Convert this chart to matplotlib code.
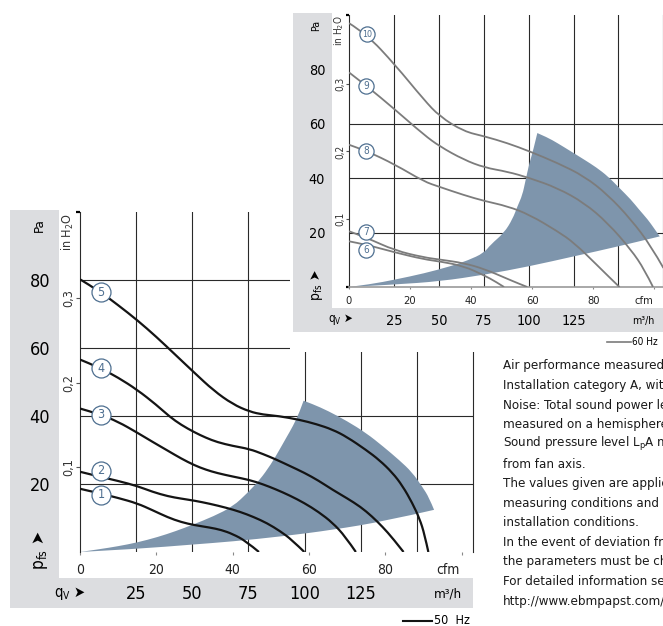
import matplotlib
matplotlib.use("Agg")
import matplotlib.pyplot as plt
from matplotlib.patches import Rectangle, PathPatch
from matplotlib.lines import Line2D
from matplotlib.path import Path

plt.rcParams['font.family'] = ['DejaVu Sans']
plt.rcParams['font.stretch'] = 'condensed'

# 50 Hz curves (cfm, Pa)
c1_cfm = [0, 5, 10, 15, 19, 23, 26.5, 30, 34, 37, 40, 43.5, 46.9]
c1_pa = [18.6, 17.3, 15.9, 14.3, 12.3, 10.2, 8.8, 7.9, 7.2, 6.5, 5.3, 3.2, 0]
c2_cfm = [0, 5, 10, 15, 19, 23, 26.5, 30, 34, 38.4, 42, 45.5, 49, 52.5, 55.5, 58.8]
c2_pa = [23.6, 22.2, 20.9, 19.4, 17.7, 16.4, 15.7, 15.1, 14.2, 13, 11.8, 10.3, 8.5, 6.1,
         3.6, 0]
c3_cfm = [0, 5, 10, 15, 19, 23, 26.5, 30, 33, 36, 40, 44.4, 48, 51.4,
          55, 58.8, 62.5, 66.2, 69.5, 72.3]
c3_pa = [42.2, 40.6, 38.3, 35.1, 32.4, 29.8, 27.5, 25.5, 24.2, 23.2, 22.2, 21.2, 19.9,
         18.4, 16.6, 14.4, 11.8, 8.6, 4.6, 0]
c4_cfm = [0, 5, 10, 15, 20, 23.5, 26.5, 30, 33, 36, 40, 44.4, 48, 51.4, 55,
          58.8, 62.5, 66.2, 70, 73.5, 76.5, 79.3, 82, 84.8]
c4_pa = [56.6, 54.3, 51.3, 47.7, 43.3, 39.8, 37.4, 35.2, 33.6, 32.3, 31.2, 30.3, 28.8,
         27.2, 25.3, 23.3, 21, 18.3, 15.8, 13.3, 10.5, 7.4, 4, 0]
c5_cfm = [0, 5, 10, 15, 20, 25, 30, 35, 40, 44.4, 48, 52, 57.5, 62, 66.2, 70,
          75, 78.5, 81.9, 84.5, 87.1, 89, 90.3, 91.3]
c5_pa = [80.2, 76.8, 72.6, 68.2, 63.3, 58, 52.7, 47.5, 43.5, 41.3, 40.4, 40, 38.9,
         37.6, 36, 33.8, 30, 27, 23.3, 19.5, 14.4, 9.8, 5.2, 0]

# 60 Hz curves, small chart (cfm, Pa)
c6_cfm = [0, 5.6, 15.1, 24.5, 29.7, 37.6, 44.4, 48, 50.8]
c6_pa = [16.8, 15.6, 12.7, 10.2, 9.4, 7.7, 4.2, 2, 0]
c7_cfm = [0, 5.6, 15.1, 24.5, 29.7, 37.6, 44.4, 51.9, 55.5, 58.4]
c7_pa = [20.5, 18.2, 13.4, 10.9, 10.1, 8.8, 6.6, 3, 1.3, 0]
c8_cfm = [0, 5.6, 15.1, 24.5, 29.7, 37.6, 44.4, 51.9, 59.1, 68.3, 73.8, 81.5, 85, 88.6]
c8_pa = [52.3, 50.1, 45, 38.8, 36.8, 33.8, 31.6, 29.7, 26.6, 20.5, 16.2, 7.8, 3.9, 0]
c9_cfm = [0, 5.6, 15.1, 24.5, 29.7, 37.6, 44.4, 51.9, 59.1, 68.3, 77.1, 84.8, 92.4,
          96.8, 99.6]
c9_pa = [78.9, 74.1, 65.2, 56, 51.7, 46.8, 43.9, 42.4, 40.1, 36.4, 30.9, 23.5, 13.7,
         6.4, 0]
c10_cfm = [0, 5.7, 15.1, 24.5, 29.7, 37.6, 44.4, 51.9, 59.1, 68.3, 77.1, 84.8, 92.4,
           99, 103]
c10_pa = [97, 93, 81.7, 68.9, 62.7, 57.2, 55.4, 52.9, 49.9, 45.6, 40.7, 33.9, 24.8,
          15, 7]

# operating range (shaded): lower edge, outer arc, left edge
fan50_low_cfm = [0, 14.9, 29.6, 40, 53, 66.2, 80, 92.8]
fan50_low_pa = [0, 0.9, 2.2, 3.1, 4.6, 6.5, 9.1, 12.4]
fan50_arc_cfm = [92.8, 91.5, 89.7, 87, 83.7, 79.5, 75, 70, 65, 61, 58.6]
fan50_arc_pa = [12.4, 16, 19.2, 23.5, 27, 31, 35, 38.5, 41.5, 43.5, 44.5]
fan50_left_cfm = [58.6, 57.5, 55.8, 54, 52.3, 50, 47.1, 44, 40.1, 35, 29.5, 25, 20.4,
                  15, 10, 5, 0]
fan50_left_pa = [44.5, 41, 37, 33.5, 30.1, 25.7, 21.2, 17.5, 13.4, 10.5, 8, 6.1, 4.4,
                 2.8, 1.7, 0.8, 0]
fan60_low_cfm = [0, 15.1, 29.9, 44.4, 59.1, 73.8, 88.6, 101.8]
fan60_low_pa = [0, 0.9, 2.1, 4.5, 7.6, 11.3, 15, 18.6]
fan60_arc_cfm = [101.8, 100, 97.9, 95, 92.4, 88.5, 84.8, 81, 77.1, 72.5, 68.3, 65, 61.7]
fan60_arc_pa = [18.6, 21.5, 24.8, 28.5, 32.1, 36.5, 40.7, 44, 46.8, 50, 52.9, 55, 56.6]
fan60_left_cfm = [61.7, 60.3, 59.1, 57.8, 56.8, 55.2, 53.6, 50.8, 46.4, 44.2, 39, 33.2,
                  24.6, 15, 7, 0]
fan60_left_pa = [56.6, 50, 45.6, 39, 33.8, 29.7, 25, 19.9, 15.6, 12.5, 9.8, 7.6, 5.0,
                 2.7, 1.0, 0]

curves50 = [(1, c1_cfm, c1_pa), (2, c2_cfm, c2_pa), (3, c3_cfm, c3_pa),
            (4, c4_cfm, c4_pa), (5, c5_cfm, c5_pa)]
curves60 = [(6, c6_cfm, c6_pa), (7, c7_cfm, c7_pa), (8, c8_cfm, c8_pa),
            (9, c9_cfm, c9_pa), (10, c10_cfm, c10_pa)]
fan50 = [(fan50_low_cfm, fan50_low_pa), (fan50_arc_cfm, fan50_arc_pa),
         (fan50_left_cfm, fan50_left_pa)]
fan60 = [(fan60_low_cfm, fan60_low_pa), (fan60_arc_cfm, fan60_arc_pa),
         (fan60_left_cfm, fan60_left_pa)]
tags50 = {1: (5.5, 16.8), 2: (5.5, 23.9), 3: (5.5, 40.4), 4: (5.5, 54), 5: (5.5, 76.4)}
tags60 = {6: (5.6, 13.6), 7: (5.6, 20.2), 8: (5.6, 50), 9: (5.6, 73.9), 10: (5.8, 93)}

pa_ticks = [20, 40, 60, 80]
inh2o_ticks = [0.1, 0.2, 0.3]
inh2o_labels = ['0,1', '0,2', '0,3']
cfm_ticks = [0, 20, 40, 60, 80, 100]
cfm_labels = ['0', '20', '40', '60', '80', '']
m3h_ticks = [25, 50, 75, 100, 125]
m3h_grid = [25, 50, 75, 100, 125, 150]
m3h_max = 175

notes = ["Air performance measured ac",
         "Installation category A, withou",
         "Noise: Total sound power leve",
         "measured on a hemisphere w",
         "Sound pressure level L$_\\mathregular{p}$A me",
         "from fan axis.",
         "The values given are applicab",
         "measuring conditions and ma",
         "installation conditions.",
         "In the event of deviation from",
         "the parameters must be chec",
         "For detailed information see",
         "http://www.ebmpapst.com/ge"]

M3H_PER_CFM = 1.699
PA_PER_INH2O = 249.09
W, H = 663, 626
GRAY = '#dcdde0'
FILL = '#7e95ac'
BLUE = '#4e6f90'
GRID = '#2a2a2a'

fig = plt.figure(figsize=(W / 100, H / 100), dpi=100)


def fx(x):
    return x / W


def fy(y):
    return 1 - y / H


def pt(px):
    return px * 72 / 100


def box(x0, y0, x1, y1, color, z):
    fig.add_artist(Rectangle((fx(x0), fy(y1)), (x1 - x0) / W, (y1 - y0) / H,
                             transform=fig.transFigure, facecolor=color,
                             edgecolor='none', zorder=z))


def ftext(x, y, s, z, **kw):
    fig.text(fx(x), fy(y), s, zorder=z, **kw)


def smooth(xs, ys, start=True):
    # quadratic bezier pieces through the midpoints of the read points
    pts = list(zip(xs, ys))
    verts, codes = [], []
    if start:
        verts.append(pts[0])
        codes.append(Path.MOVETO)
    if len(pts) == 2:
        verts.append(pts[1])
        codes.append(Path.LINETO)
        return verts, codes
    for i in range(1, len(pts) - 1):
        if i < len(pts) - 2:
            end = ((pts[i][0] + pts[i + 1][0]) / 2, (pts[i][1] + pts[i + 1][1]) / 2)
        else:
            end = pts[i + 1]
        verts += [pts[i], end]
        codes += [Path.CURVE3, Path.CURVE3]
    return verts, codes


def draw_panel(left, bottom, s, curves, tags, fan, lcolor, lw, hgrid, hz, z,
               base_line):
    top = bottom - 340 * s
    right = left + 393 * s
    box(left - 70 * s, top - 2 * s, right, bottom + 56 * s, GRAY, z)
    box(left - 21 * s, top - 2 * s, right, bottom + 26 * s, 'white', z + 0.1)

    ax = fig.add_axes([fx(left), fy(bottom), (right - left) / W, (bottom - top) / H],
                      zorder=z + 0.2)
    ax.set_facecolor('none')
    ax.set_xlim(0, m3h_max / M3H_PER_CFM)
    ax.set_ylim(0, 100)
    for side in ['top', 'bottom']:
        ax.spines[side].set_visible(False)
    for side in ['left', 'right']:
        ax.spines[side].set_linewidth(0.8)
        ax.spines[side].set_color(GRID)
    if base_line:
        ax.spines['bottom'].set_visible(True)
        ax.spines['bottom'].set_color('#9a9a9a')
        ax.spines['bottom'].set_linewidth(1.2)

    for p in hgrid:
        ax.axhline(p, color=GRID, lw=0.8, zorder=1)
    for m in m3h_grid:
        ax.axvline(m / M3H_PER_CFM, color=GRID, lw=0.8, zorder=1)

    verts, codes = [], []
    for k, (xs, ys) in enumerate(fan):
        v, c = smooth(xs, ys, start=(k == 0))
        verts += v
        codes += c
    verts.append(verts[0])
    codes.append(Path.CLOSEPOLY)
    ax.add_patch(PathPatch(Path(verts, codes), facecolor=FILL, lw=0, zorder=2))

    for n, xs, ys in curves:
        v, c = smooth(xs, ys)
        ax.add_patch(PathPatch(Path(v, c), facecolor='none', edgecolor=lcolor, lw=lw,
                               zorder=3, capstyle='butt'))
    for n, (tx, ty) in tags.items():
        ax.scatter([tx], [ty], s=187 * s * s, facecolor='white', edgecolor=BLUE,
                   linewidth=0.9, zorder=4)
        ax.text(tx, ty, str(n), ha='center', va='center', color=BLUE,
                size=(9 if n < 10 else 8) * s, zorder=5)

    # Pa axis
    ax.set_yticks(pa_ticks)
    ax.set_yticklabels([str(v) for v in pa_ticks])
    ax.tick_params(axis='y', length=0, pad=pt(40 * s), labelsize=13 * s)
    plt.setp(ax.get_yticklabels(), ha='center')
    ax.set_yticks([0, 100] if base_line else [100], minor=True)
    ax.tick_params(axis='y', which='minor', length=pt(4 * s), width=1.6,
                   color='black')

    # in H2O axis
    sec = ax.secondary_yaxis('left', functions=(lambda p: p / PA_PER_INH2O,
                                                lambda i: i * PA_PER_INH2O))
    sec.set_yticks(inh2o_ticks)
    sec.set_yticklabels(inh2o_labels)
    sec.spines['left'].set_visible(False)
    sec.tick_params(length=pt(4 * s), width=0.8, color='#555555', pad=pt(7 * s),
                    labelsize=9 * s, labelrotation=90, labelcolor='#333333')
    plt.setp(sec.get_yticklabels(), ha='center', va='center')

    # cfm axis
    ax.set_xticks(cfm_ticks)
    ax.set_xticklabels(cfm_labels)
    ax.tick_params(axis='x', length=pt(3 * s), width=0.8, color='#888888',
                   pad=pt(15 * s), labelsize=10 * s, labelcolor='#222222')
    plt.setp(ax.get_xticklabels(), va='center')

    # m3/h axis
    secx = ax.secondary_xaxis('bottom', functions=(lambda c: c * M3H_PER_CFM,
                                                   lambda m: m / M3H_PER_CFM))
    secx.set_xticks(m3h_ticks)
    secx.set_xticklabels([str(v) for v in m3h_ticks])
    secx.spines['bottom'].set_visible(False)
    secx.tick_params(length=0, pad=pt(42 * s), labelsize=13 * s)
    plt.setp(secx.get_xticklabels(), va='center')

    zt = z + 0.3
    ftext(left + 368 * s, bottom + 18 * s, 'cfm', zt, size=10 * s, ha='center',
          va='center', color='#222222')
    ftext(left + 368 * s, bottom + 42 * s, 'm³/h', zt, size=9.5 * s, ha='center',
          va='center')
    ftext(left - 41 * s, top + 13 * s, 'Pa', zt, size=9.5 * s, rotation=90,
          ha='center', va='center')
    ftext(left - 12 * s, top + 20 * s, 'in H$_\\mathregular{2}$O', zt, size=9 * s,
          rotation=90, ha='center', va='center', color='#333333')
    ftext(left - 40 * s, bottom - 2 * s, 'p$_\\mathregular{fs}$ ➤', zt, size=12.5 * s,
          rotation=90, ha='center', va='center')
    ftext(left - 10 * s, bottom + 41 * s, 'q$_\\mathregular{V}$ ➤', zt, size=10.5 * s,
          ha='center', va='center')

    fig.add_artist(Line2D([fx(right - 70 * s), fx(right - 41 * s)],
                          [fy(bottom + 69 * s)] * 2, transform=fig.transFigure,
                          color=lcolor, lw=1.5 * s, zorder=zt))
    ftext(right - 39 * s, bottom + 69 * s, hz, zt, size=9 * s, ha='left',
          va='center')


# big 50 Hz chart
draw_panel(80, 552, 1.0, curves50, tags50, fan50, '#141414', 1.6,
           [20, 40, 60, 80], '50  Hz', 1, False)

# small 60 Hz chart sits on top of the big one
box(290, 0, W, 352, 'white', 4)
draw_panel(349, 287, 0.8, curves60, tags60, fan60, '#7c7c7c', 1.3,
           [20, 40, 60], '60 Hz', 5, True)

# note block, cut at the right edge as in the data sheet
for i, line in enumerate(notes):
    ftext(503, 366 + i * 19.6, line, 10, size=9.5, ha='left', va='center',
          color='#1a1a1a')

fig.savefig('out.png', dpi=100)
